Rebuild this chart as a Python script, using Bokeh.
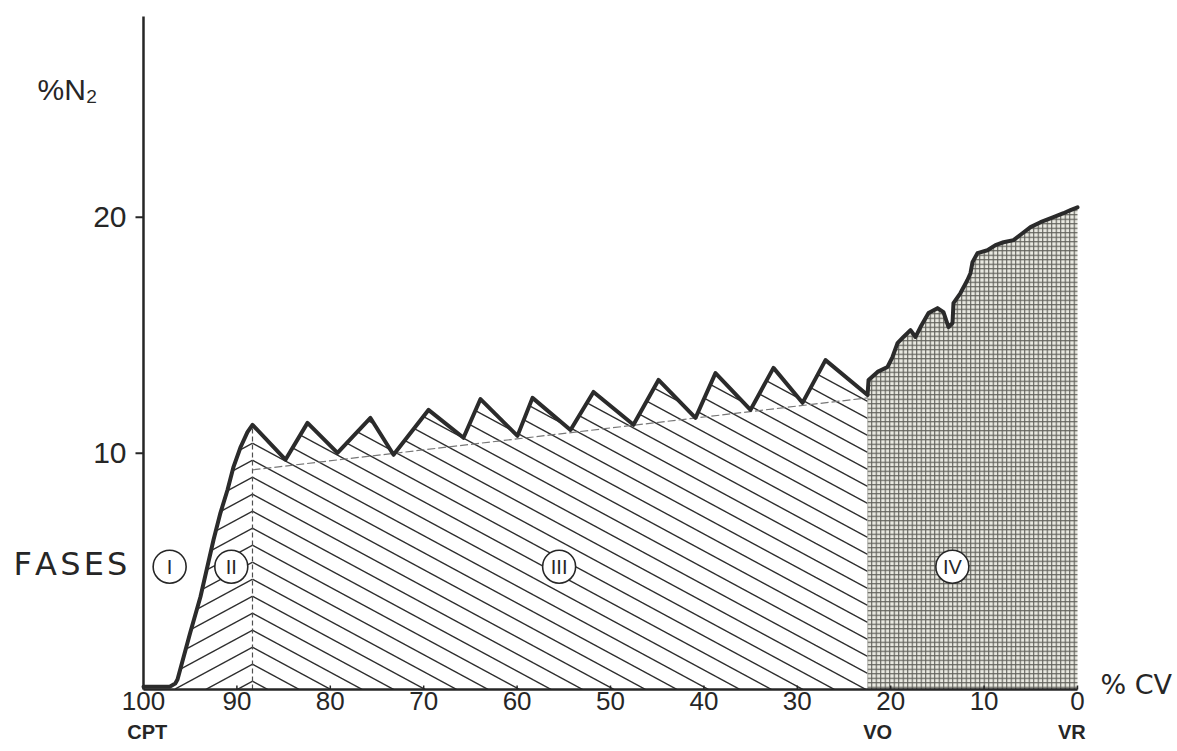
import numpy as np
from bokeh.plotting import figure
from bokeh.models import Range1d
from bokeh.core.properties import value
from bokeh.embed import file_html
from bokeh.resources import INLINE

# ---------------- data ----------------
# % CV (x, decreasing to the right) and % N2 (y)
x_rise = [100.0, 97.2, 96.6, 96.36, 95.0, 93.9, 92.5, 91.76, 91.0, 90.36, 89.6, 88.87]
y_rise = [0.12, 0.12, 0.25, 0.42, 2.4, 3.93, 6.34, 7.48, 8.46, 9.43, 10.27, 10.9]

x_plateau = [88.33, 84.80, 82.44, 79.23, 75.70, 73.23, 69.49, 65.74, 63.92, 59.96, 58.35,
             54.28, 51.82, 47.54, 44.86, 40.90, 38.76, 35.01, 32.55, 29.44, 26.98, 22.48]
y_plateau = [11.21, 9.73, 11.29, 10.02, 11.50, 9.94, 11.84, 10.66, 12.30, 10.74, 12.35,
             10.99, 12.60, 11.21, 13.11, 11.50, 13.40, 11.84, 13.62, 12.14, 13.95, 12.47]

x_phase4 = [22.37, 21.41, 20.34, 19.81, 19.27, 18.63, 17.88, 17.34, 16.81, 15.95, 14.99, 14.35,
            13.81, 13.38, 13.28, 12.53, 11.78, 11.46, 11.24, 10.71, 9.64, 8.78, 7.92, 6.85,
            5.89, 5.03, 3.96, 2.57, 1.50, 0.75, 0.0]
y_phase4 = [13.11, 13.45, 13.66, 14.08, 14.67, 14.93, 15.22, 14.93, 15.35, 15.94, 16.15, 15.98,
            15.35, 15.52, 16.36, 16.79, 17.34, 17.63, 18.10, 18.48, 18.60, 18.82, 18.94, 19.03,
            19.32, 19.58, 19.79, 20.00, 20.17, 20.30, 20.42]

phase_bounds = [100.0, 88.33, 22.48, 0.0]      # I|II, II|III, III|IV
phase_start_II = 96.6
trend_x = [88.33, 22.48]                        # dashed plateau trend line
trend_y = [9.3, 12.35]

phase_names = ["I", "II", "III", "IV"]
phase_label_x = [97.2, 90.6, 55.5, 13.4]
phase_label_y = [5.2, 5.2, 5.2, 5.2]

x_ticks = [100, 90, 80, 70, 60, 50, 40, 30, 20, 10, 0]
y_ticks = [10, 20]
y_axis_top = 28.5
x_sub_labels = ["CPT", "VO", "VR"]
x_sub_pos = [99.6, 21.4, 0.6]

# ---------------- figure (frame covers the whole canvas) ----------------
W, H = 1175, 749
X0, X1 = 115.310, -10.493
Y0, Y1 = -2.541, 29.178
px_per_x = W / (X0 - X1)
px_per_y = H / (Y1 - Y0)

p = figure(width=W, height=H, output_backend="svg", toolbar_location=None,
           x_range=Range1d(X0, X1), y_range=Range1d(Y0, Y1),
           x_axis_location=None, y_axis_location=None,
           min_border_left=0, min_border_right=0, min_border_top=0, min_border_bottom=0)
p.background_fill_color = "white"
p.border_fill_color = "white"
p.outline_line_color = None
p.xgrid.visible = False
p.ygrid.visible = False

ink = "#262626"
fnt = value("Liberation Sans")

def dx(px):
    return px / px_per_x

def dy(px):
    return px / px_per_y

# ---------------- curve ----------------
cx = np.array(x_rise + x_plateau + x_phase4)
cy = np.array(y_rise + y_plateau + y_phase4)
order = np.argsort(cx)
cxs, cys = cx[order], cy[order]

def curve(x):
    return np.interp(x, cxs, cys)

# hatch lines (angle and spacing defined in pixels)
slope_px = 0.54
gap_px = 17.0
m = slope_px * px_per_x / px_per_y
gap = gap_px / px_per_y

def hatch(x_lo, x_hi, sign, xb, n):
    xs_all, ys_all = [], []
    xx = np.arange(x_lo, x_hi + 1e-9, 0.02)
    cv = curve(xx)
    for k in range(n):
        c = 0.35 + k * gap
        yy = c + sign * m * (xx - xb)
        ok = (yy >= 0) & (yy <= cv)
        if not ok.any():
            continue
        idx = np.where(ok)[0]
        breaks = np.where(np.diff(idx) > 1)[0]
        starts = np.concatenate([[0], breaks + 1])
        ends = np.concatenate([breaks, [len(idx) - 1]])
        for s, e in zip(starts, ends):
            seg = idx[s:e + 1]
            if len(seg) > 1:
                xs_all.append(xx[seg].tolist())
                ys_all.append(yy[seg].tolist())
    return xs_all, ys_all

b2, b3 = phase_bounds[1], phase_bounds[2]
hx3, hy3 = hatch(b3, b2, +1, b2, 45)
hx2, hy2 = hatch(b2, phase_start_II, -1, b2, 20)
p.multi_line(hx3, hy3, line_color="#2e2e2e", line_width=1.4)
p.multi_line(hx2, hy2, line_color="#2e2e2e", line_width=1.4)

# phase IV textured fill
x4 = np.array([b3] + x_phase4)
y4 = np.array([curve(b3)] + y_phase4)
p.varea(x=x4, y1=np.zeros_like(y4), y2=y4, fill_color="#e8e8e0",
        hatch_pattern="+", hatch_scale=4.5, hatch_weight=1.1, hatch_color="#5e5e58")

# dashed boundary II|III and trend line
p.line([b2, b2], [0, curve(b2)], line_color="#505050", line_width=1.2, line_dash="5 3")
p.line(trend_x, trend_y, line_color="#777777", line_width=1.2, line_dash="8 3")

# ---------------- axes (drawn through the data scales) ----------------
x_left, x_right = x_ticks[0], x_ticks[-1]
p.line([x_left, x_left], [0, y_axis_top], line_color=ink, line_width=2.5)
p.line([x_left, x_right], [0, 0], line_color=ink, line_width=2.5)
# y ticks (outside, left)
p.segment(x0=[x_left] * len(y_ticks), y0=y_ticks,
          x1=[x_left + dx(8)] * len(y_ticks), y1=y_ticks, line_color=ink, line_width=2)
p.text(x=[x_left + dx(17)] * len(y_ticks), y=y_ticks, text=[str(t) for t in y_ticks],
       text_align="right", text_baseline="middle", text_font=fnt,
       text_font_size="30px", text_color=ink)
# x ticks (small, inside)
p.segment(x0=x_ticks, y0=[0] * len(x_ticks), x1=x_ticks, y1=[dy(4)] * len(x_ticks),
          line_color=ink, line_width=1.5)
p.text(x=x_ticks, y=[-dy(3)] * len(x_ticks), text=[str(t) for t in x_ticks],
       text_align="center", text_baseline="top", text_font=fnt,
       text_font_size="26px", text_color=ink)
p.text(x=x_sub_pos, y=[-dy(43)] * len(x_sub_pos), text=x_sub_labels,
       text_align="center", text_baseline="middle", text_font=fnt,
       text_font_style="bold", text_font_size="20px", text_color=ink)

# main curve
p.line(cx, cy, line_color="#2b2b2b", line_width=4, line_join="round", line_cap="round")

# phase labels
p.scatter(phase_label_x, phase_label_y, marker="circle", size=33, fill_color="white",
          line_color=ink, line_width=1.6)
p.text(phase_label_x, phase_label_y, text=phase_names, text_align="center",
       text_baseline="middle", text_font=fnt, text_font_size="20px", text_color=ink)

# other texts
p.text(x=[x_left + dx(106)], y=[25.4], text=["%N₂"], text_font=fnt,
       text_font_size="30px", text_baseline="middle", text_align="left", text_color=ink)
p.text(x=[x_left + dx(130)], y=[5.33], text=["F\u200aA\u200aS\u200aE\u200aS"],
       text_font=value("DejaVu Sans"), text_font_size="32px", text_baseline="middle",
       text_align="left", text_color=ink)
p.text(x=[x_right - dx(23)], y=[0.2], text=["% CV"], text_font=value("DejaVu Sans"),
       text_font_size="27px", text_baseline="middle", text_align="left", text_color=ink)

open("out.html", "w").write(file_html(p, INLINE))
